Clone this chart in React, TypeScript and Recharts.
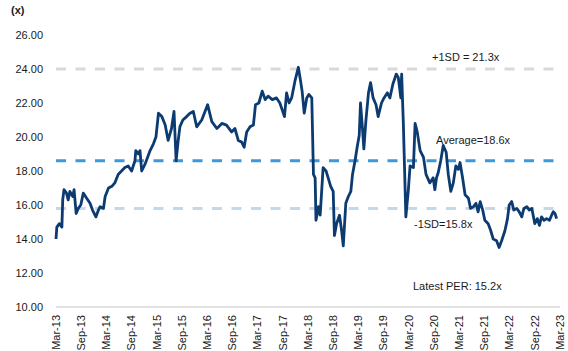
import React from 'react';
import { LineChart, Line, XAxis, YAxis, ReferenceLine } from 'recharts';

// Months elapsed since March 2013 for each sampled observation
const months = [
  0, 0.2, 0.8, 1.4, 1.6, 1.9, 2.5, 2.9, 3.3, 4.0, 4.3, 4.8, 5.3, 5.9, 6.5, 7.3, 8.1, 8.7, 9.5, 10.1,
  10.5, 11.3, 11.7, 12.5, 13.3, 14.0, 14.8, 15.6, 16.4, 17.2, 18.0, 18.8, 19.0, 19.6, 20.0, 20.4, 21.2, 22.4, 23.2, 23.8,
  24.4, 25.2, 26.0, 26.7, 27.5, 28.1, 28.6, 29.1, 29.5, 30.2, 31.1, 31.9, 32.7, 33.5, 34.7, 36.1, 37.1, 38.3, 39.5, 40.6,
  41.8, 42.6, 43.4, 44.2, 44.8, 45.4, 46.2, 47.0, 47.5, 48.3, 49.1, 49.8, 50.5, 51.5, 52.5, 53.3, 54.4, 54.9, 55.5, 56.1,
  56.9, 57.7, 58.1, 58.6, 59.1, 59.7, 60.2, 60.9, 61.3, 61.7, 61.9, 62.5, 62.9, 63.6, 64.3, 64.8, 65.4, 66.0, 66.3, 66.8,
  67.5, 68.0, 68.4, 69.0, 69.6, 70.2, 70.6, 71.2, 71.7, 72.2, 72.5, 73.0, 73.3, 73.8, 74.4, 74.9, 75.5, 76.2, 76.7, 77.5,
  78.1, 78.9, 79.5, 80.2, 81.0, 81.5, 82.1, 82.3, 82.7, 83.3, 83.9, 84.3, 85.1, 85.5, 86.0, 86.7, 87.5, 88.1, 89.0, 89.8,
  90.2, 90.6, 91.0, 91.6, 92.2, 92.9, 93.4, 94.0, 94.6, 95.2, 95.8, 96.2, 96.8, 97.4, 98.2, 98.7, 99.4, 100.0, 100.5, 101.0,
  101.6, 102.1, 102.9, 103.5, 104.1, 104.9, 105.5, 106.1, 106.9, 107.5, 107.9, 108.5, 109.0, 109.7, 110.3, 110.9, 111.4, 112.1, 112.7, 113.3,
  114.0, 114.6, 115.1, 115.6, 116.2, 116.8, 117.5, 118.0, 118.4, 118.8, 119.2,
];

// Forward P/E multiple (x) at each observation
const per = [
  14.0, 14.7, 14.9, 14.7, 16.3, 16.9, 16.7, 16.3, 16.8, 16.5, 16.9, 15.5, 15.8, 16.0, 16.7, 16.4, 16.1, 15.7, 15.3, 15.7,
  15.9, 15.8, 16.5, 17.0, 17.1, 17.3, 17.8, 18.0, 18.2, 18.3, 18.0, 18.6, 19.2, 19.0, 19.2, 18.0, 18.4, 19.2, 19.6, 20.0,
  21.4, 21.2, 20.7, 19.8, 20.5, 21.5, 18.6, 19.8, 20.6, 21.0, 21.2, 21.4, 21.5, 20.6, 21.0, 21.9, 20.9, 20.5, 20.8, 20.7,
  20.3, 20.5, 19.8, 19.7, 19.4, 20.3, 20.6, 20.7, 21.9, 22.0, 22.7, 22.2, 22.4, 22.2, 22.3, 22.0, 21.2, 22.6, 22.0, 22.3,
  23.3, 24.1, 23.5, 22.7, 21.4, 22.3, 22.5, 22.3, 17.8, 17.6, 15.1, 15.9, 15.4, 18.2, 18.0, 17.6, 17.1, 16.8, 14.2, 14.9,
  15.4, 14.5, 13.6, 16.1, 16.5, 16.8, 17.8, 18.6, 19.4, 20.1, 22.0, 20.4, 19.3, 21.0, 22.6, 23.2, 22.3, 21.9, 21.2, 22.0,
  22.3, 22.6, 22.3, 23.1, 23.7, 23.5, 22.3, 23.7, 20.8, 15.3, 16.9, 18.3, 18.2, 20.8, 20.3, 19.2, 18.8, 17.8, 17.3, 17.6,
  16.9, 17.6, 17.9, 18.6, 19.5, 19.1, 17.8, 16.8, 17.3, 18.3, 18.1, 18.5, 17.6, 16.6, 16.4, 15.8, 15.9, 16.1, 15.6, 16.2,
  15.7, 15.1, 14.9, 14.5, 14.0, 13.9, 13.5, 13.9, 14.5, 15.2, 16.0, 16.2, 15.7, 15.8, 15.6, 15.3, 15.8, 15.9, 15.7, 15.8,
  14.9, 15.2, 14.8, 15.3, 15.1, 15.2, 15.1, 15.4, 15.6, 15.5, 15.2,
];

// Half-yearly axis ticks
const tickMonths = [0, 6, 12, 18, 24, 30, 36, 42, 48, 54, 60, 66, 72, 78, 84, 90, 96, 102, 108, 114, 120];
const tickLabels = [
  'Mar-13', 'Sep-13', 'Mar-14', 'Sep-14', 'Mar-15', 'Sep-15', 'Mar-16', 'Sep-16', 'Mar-17', 'Sep-17',
  'Mar-18', 'Sep-18', 'Mar-19', 'Sep-19', 'Mar-20', 'Sep-20', 'Mar-21', 'Sep-21', 'Mar-22', 'Sep-22', 'Mar-23',
];
const yTicks = [10, 12, 14, 16, 18, 20, 22, 24, 26];

// Band statistics
const average = 18.6;
const minusOneSd = 15.8;
const plusOneSd = 21.3;
const upperBandLevel = 24;

const data = months.map((m, i) => ({ m, per: per[i] }));
const latest = per[per.length - 1];

const FONT = '"Liberation Sans", Arial, Helvetica, sans-serif';
const TEXT = '#1a1a1a';

const XTick = (props: any) => {
  const { x, y, payload } = props;
  const idx = tickMonths.indexOf(payload.value);
  return (
    <text
      x={x}
      y={y}
      transform={`rotate(-90 ${x} ${y})`}
      textAnchor="end"
      dy="0.35em"
      fontSize={11}
      fontFamily={FONT}
      fill={TEXT}
    >
      {idx >= 0 ? tickLabels[idx] : ''}
    </text>
  );
};

const YTick = (props: any) => {
  const { x, y, payload } = props;
  return (
    <text x={x} y={y} textAnchor="end" dy="0.35em" fontSize={11} fontFamily={FONT} fill={TEXT}>
      {Number(payload.value).toFixed(2)}
    </text>
  );
};

const bandLabel = (text: string, dx: number, dy: number) => (props: any) => {
  const vb = props.viewBox || {};
  return (
    <text x={vb.x + dx} y={vb.y + dy} textAnchor="start" fontSize={11} fontFamily={FONT} fill={TEXT}>
      {text}
    </text>
  );
};

export default function App() {
  return (
    <div style={{ position: 'absolute', left: 0, top: 0, width: 568, height: 351, background: '#fff' }}>
      <LineChart
        width={568}
        height={351}
        data={data}
        margin={{ top: 35, right: 8, bottom: 0, left: 0 }}
      >
        <text x={11} y={14} fontSize={11} fontWeight="bold" fontFamily={FONT} fill={TEXT}>
          (x)
        </text>
        <XAxis
          dataKey="m"
          type="number"
          domain={[0, 120]}
          ticks={tickMonths}
          interval={0}
          height={44}
          tickSize={0}
          tickMargin={8}
          tickLine={false}
          axisLine={{ stroke: '#d9d9d9', strokeWidth: 1.5 }}
          tick={<XTick />}
        />
        <YAxis
          type="number"
          domain={[10, 26]}
          ticks={yTicks}
          interval={0}
          width={56}
          tickSize={0}
          tickMargin={13}
          tickLine={false}
          axisLine={false}
          tick={<YTick />}
        />
        <ReferenceLine
          y={upperBandLevel}
          stroke="#d9d9d9"
          strokeWidth={3}
          strokeDasharray="10 9.5"
          label={bandLabel(`+1SD = ${plusOneSd.toFixed(1)}x`, 376, -8)}
        />
        <ReferenceLine
          y={average}
          stroke="#3f98dc"
          strokeWidth={3}
          strokeDasharray="10 9.5"
          label={bandLabel(`Average=${average.toFixed(1)}x`, 380, -17)}
        />
        <ReferenceLine
          y={minusOneSd}
          stroke="#c3d9ea"
          strokeWidth={3}
          strokeDasharray="10 9.5"
          label={bandLabel(`-1SD=${minusOneSd.toFixed(1)}x`, 358, 20)}
        />
        <Line
          type="linear"
          dataKey="per"
          stroke="#0b3b70"
          strokeWidth={2.8}
          strokeLinejoin="round"
          dot={false}
          activeDot={false}
          isAnimationActive={false}
        />
        <text x={413} y={290} fontSize={11} fontFamily={FONT} fill={TEXT}>
          {`Latest PER: ${latest.toFixed(1)}x`}
        </text>
      </LineChart>
    </div>
  );
}
